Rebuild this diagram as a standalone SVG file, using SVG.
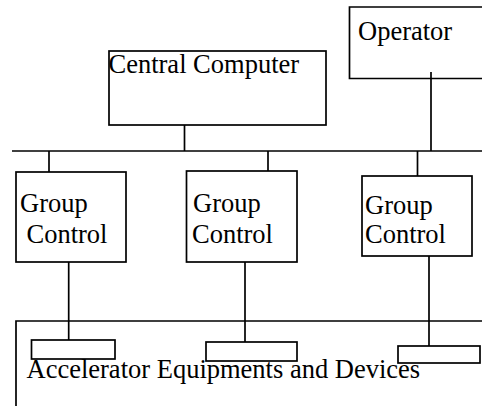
<svg xmlns="http://www.w3.org/2000/svg" width="482" height="406" viewBox="0 0 482 406">
<style>
.box{fill:#fff;stroke:#000;stroke-width:1.7}
.ln{fill:none;stroke:#000;stroke-width:1.7}
text{font-family:"Liberation Serif","Times New Roman",serif;font-size:26.5px;fill:#000}
</style>
<rect width="482" height="406" fill="#fff"/>
<g id="connectors">
<line class="ln" x1="12" y1="151" x2="482" y2="151"/>
<line class="ln" x1="184.5" y1="125" x2="184.5" y2="151"/>
<line class="ln" x1="431" y1="72" x2="431" y2="151"/>
<line class="ln" x1="49" y1="151" x2="49" y2="172"/>
<line class="ln" x1="268" y1="151" x2="268" y2="171"/>
<line class="ln" x1="417.5" y1="151" x2="417.5" y2="176"/>
<line class="ln" x1="68.7" y1="262" x2="68.7" y2="340"/>
<line class="ln" x1="245" y1="262" x2="245" y2="342"/>
<line class="ln" x1="429" y1="256" x2="429" y2="346"/>
</g>
<g id="operator">
<polyline class="box" points="483,7 349.5,7 349.5,78.5 483,78.5"/>
<line class="ln" x1="431" y1="72" x2="431" y2="78.5"/>
<text x="358" y="40">Operator</text>
</g>
<g id="central-computer">
<rect class="box" x="109" y="51" width="217" height="74"/>
<text x="108.5" y="73">Central Computer</text>
</g>
<g id="group-control-1">
<rect class="box" x="16" y="172" width="110" height="90"/>
<text x="20" y="212">Group</text>
<text x="26.5" y="243">Control</text>
</g>
<g id="group-control-2">
<rect class="box" x="186.5" y="171" width="110.5" height="91"/>
<text x="193" y="212">Group</text>
<text x="192" y="243">Control</text>
</g>
<g id="group-control-3">
<rect class="box" x="362" y="176" width="110" height="80"/>
<text x="365" y="214">Group</text>
<text x="365" y="243">Control</text>
</g>
<g id="accelerator">
<polyline class="ln" points="16,407 16,321 483,321"/>
<rect class="box" x="31.5" y="340" width="83.5" height="19"/>
<rect class="box" x="206" y="342" width="91" height="19"/>
<rect class="box" x="398" y="346" width="82" height="17"/>
<text x="26.5" y="378">Accelerator Equipments and Devices</text>
</g>
</svg>
